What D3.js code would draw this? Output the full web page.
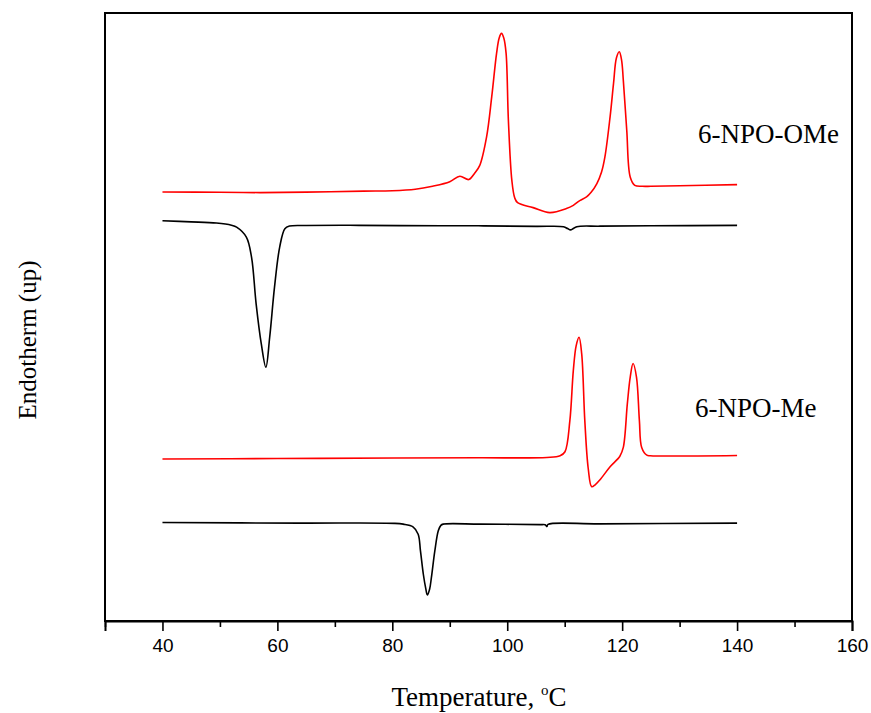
<!DOCTYPE html>
<html>
<head>
<meta charset="utf-8">
<script src="https://cdn.jsdelivr.net/npm/d3@7"></script>
<style>
  body { margin: 0; background: #fff; }
  text { fill: #000; }
</style>
</head>
<body>
<svg id="chart" width="871" height="713"></svg>
<script>
(function () {
  'use strict';

  // DSC traces (arbitrary heat-flow units, offset per trace)
  const omeHeatT = [40, 50, 57, 65, 75, 80, 84, 87, 90, 91.75, 93.3, 94.3, 95.2, 96.4, 97.3, 98.15, 98.6, 99.0, 99.4, 99.8, 100.2, 100.8, 101.3, 101.8, 104.5, 107.4, 110.3, 111.5, 112.3, 112.7, 113.8, 114.6, 115.6, 116.4, 117.0, 117.9, 118.5, 119.0, 119.5, 119.9, 120.2, 120.8, 121.4, 122.2, 123.5, 125, 130, 140];
  const omeHeatV = [70.56, 70.51, 70.46, 70.54, 70.7, 70.76, 71.0, 71.5, 72.24, 73.15, 72.6, 73.6, 74.9, 79.6, 86.2, 93.4, 95.9, 96.65, 95.9, 93.4, 82.4, 72.5, 69.6, 68.8, 67.99, 67.17, 67.83, 68.37, 68.95, 69.19, 69.74, 70.5, 71.94, 73.8, 76.33, 82.92, 88.42, 92.59, 93.62, 92.26, 88.96, 80.72, 73.03, 71.66, 71.5, 71.5, 71.58, 71.78];

  const omeCoolT = [40, 45, 49.4, 52, 52.9, 54.6, 55.5, 56.3, 57.2, 58.0, 58.66, 59.5, 60.4, 61.3, 62.1, 65, 72.6, 81.3, 95, 105, 109.8, 110.5, 111.0, 111.5, 112.1, 116.15, 125, 140];
  const omeCoolV = [65.82, 65.65, 65.45, 65.1, 64.79, 63.15, 59.85, 52.17, 45.58, 41.73, 46.67, 54.91, 61.5, 64.53, 64.96, 65.05, 65.08, 65.03, 65.0, 64.9, 64.85, 64.55, 64.33, 64.55, 64.86, 64.94, 65.0, 65.07];

  const meHeatT = [40, 60, 80.4, 95, 106.9, 109.2, 110.05, 110.9, 111.5, 112.0, 112.5, 112.96, 113.5, 114.1, 114.7, 115.3, 116.15, 117.9, 119.6, 120.2, 120.9, 121.4, 121.9, 122.5, 123.0, 123.4, 124.3, 124.9, 140];
  const meHeatV = [26.64, 26.72, 26.80, 26.85, 26.90, 27.18, 27.84, 32.95, 41.19, 45.30, 46.67, 43.94, 32.95, 25.04, 22.08, 22.4, 23.23, 25.37, 27.1, 28.55, 35.7, 40.08, 42.34, 40.08, 32.95, 28.55, 27.27, 27.18, 27.23];

  const meCoolT = [40, 63.9, 80.4, 81.9, 83.6, 84.5, 84.9, 85.4, 85.8, 86.1, 86.5, 86.8, 87.4, 88.0, 88.45, 88.85, 95.2, 105.7, 106.6, 106.9, 107.1, 116.15, 140];
  const meCoolV = [16.19, 16.1, 16.06, 15.93, 15.49, 14.28, 11.53, 7.69, 5.44, 4.28, 5.27, 7.13, 11.53, 14.83, 15.73, 15.93, 15.93, 15.85, 15.82, 15.53, 15.9, 15.98, 16.1];

  const majorTicks = [40, 60, 80, 100, 120, 140, 160];
  const minorTicks = [30, 50, 70, 90, 110, 130, 150];

  const traces = [
    { t: omeHeatT, v: omeHeatV, color: '#ff0000' },
    { t: omeCoolT, v: omeCoolV, color: '#000000' },
    { t: meHeatT, v: meHeatV, color: '#ff0000' },
    { t: meCoolT, v: meCoolV, color: '#000000' },
  ];

  const svg = d3.select('#chart');
  const left = 105, right = 852, top = 13, bottom = 621;

  const x = d3.scaleLinear().domain([30, 160]).range([left, right]);
  const y = d3.scaleLinear().domain([0, 100]).range([bottom, top]);

  const line = d3.line()
    .x(d => x(d[0]))
    .y(d => y(d[1]))
    .curve(d3.curveCatmullRom.alpha(0.5));

  svg.append('g').classed('traces', true)
    .selectAll('path').data(traces)
    .enter().append('path')
    .attr('d', tr => line(tr.t.map((t, i) => [t, tr.v[i]])))
    .attr('fill', 'none')
    .attr('stroke', tr => tr.color)
    .attr('stroke-width', 1.6)
    .attr('stroke-linejoin', 'round');

  // frame
  svg.append('rect')
    .attr('x', left).attr('y', top)
    .attr('width', right - left).attr('height', bottom - top)
    .attr('fill', 'none').attr('stroke', '#000').attr('stroke-width', 2);

  // bottom axis: major ticks with labels, minor ticks without
  const axisMajor = svg.append('g')
    .attr('transform', `translate(0,${bottom})`)
    .call(d3.axisBottom(x).tickValues(majorTicks).tickSize(10).tickPadding(8).tickFormat(d3.format('d')));
  axisMajor.select('.domain').attr('stroke-width', 2);
  axisMajor.selectAll('.tick line').attr('stroke-width', 1.6);
  axisMajor.selectAll('.tick text')
    .attr('font-family', '"Liberation Sans", Arial, sans-serif')
    .attr('font-size', 19);

  const axisMinor = svg.append('g')
    .attr('transform', `translate(0,${bottom})`)
    .call(d3.axisBottom(x).tickValues(minorTicks).tickSize(6).tickFormat(''));
  axisMinor.select('.domain').remove();
  axisMinor.selectAll('.tick line').attr('stroke-width', 1.6);

  // axis titles
  const title = svg.append('text')
    .attr('x', 479).attr('y', 706)
    .attr('text-anchor', 'middle')
    .attr('font-family', '"Liberation Serif", "Times New Roman", serif')
    .attr('font-size', 27);
  title.append('tspan').text('Temperature, ');
  title.append('tspan').attr('font-size', 15).attr('dy', -11).text('o');
  title.append('tspan').attr('dy', 11).text('C');

  svg.append('text')
    .attr('transform', 'translate(36,340) rotate(-90)')
    .attr('text-anchor', 'middle')
    .attr('font-family', '"Liberation Serif", "Times New Roman", serif')
    .attr('font-size', 25)
    .text('Endotherm (up)');

  // trace labels
  const labels = [
    { text: '6-NPO-OMe', x: 698, y: 143 },
    { text: '6-NPO-Me', x: 695, y: 417 },
  ];
  svg.append('g').selectAll('text').data(labels)
    .enter().append('text')
    .attr('x', d => d.x).attr('y', d => d.y)
    .attr('font-family', '"Liberation Serif", "Times New Roman", serif')
    .attr('font-size', 27)
    .text(d => d.text);
}());
</script>
</body>
</html>
